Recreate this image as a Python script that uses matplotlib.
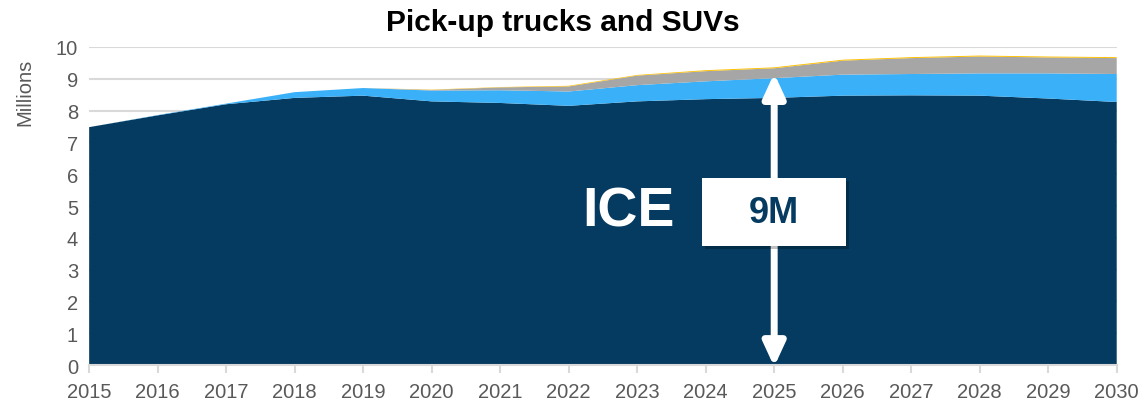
import matplotlib.pyplot as plt
from matplotlib.patches import FancyArrowPatch, Rectangle

plt.rcParams['font.family'] = ['Liberation Sans', 'DejaVu Sans']

years = list(range(2015, 2031))
ice = [7.48, 7.85, 8.20, 8.40, 8.47, 8.29, 8.24, 8.15, 8.29, 8.36, 8.40, 8.47, 8.48, 8.47, 8.38, 8.27]
hybrid = [0.00, 0.01, 0.02, 0.18, 0.24, 0.34, 0.40, 0.45, 0.51, 0.56, 0.62, 0.66, 0.67, 0.70, 0.79, 0.88]
electric = [0.00, 0.00, 0.00, 0.00, 0.00, 0.02, 0.09, 0.16, 0.30, 0.32, 0.31, 0.44, 0.50, 0.53, 0.50, 0.50]
other = [0.00, 0.00, 0.00, 0.00, 0.00, 0.01, 0.01, 0.02, 0.02, 0.03, 0.03, 0.03, 0.03, 0.03, 0.03, 0.03]
colors = ['#053B60', '#3AB0F8', '#A6A6A6', '#FFC000']

fig = plt.figure(figsize=(11.43, 4.10), dpi=100)
ax = fig.add_axes([0.078, 0.107, 0.899, 0.776])

ax.stackplot(years, ice, hybrid, electric, other, colors=colors, linewidth=0)

ax.set_xlim(2015, 2030)
ax.set_ylim(0, 10)
ax.set_xticks(years)
ax.set_yticks(range(0, 11))
ax.grid(axis='y', color='#D9D9D9', linewidth=1.5)
ax.set_axisbelow(True)
for side in ['left', 'right', 'top']:
    ax.spines[side].set_visible(False)
ax.spines['bottom'].set_color('#D9D9D9')
ax.spines['bottom'].set_linewidth(1.5)
ax.tick_params(axis='x', colors='#D9D9D9', labelcolor='#595959', labelsize=14.5,
               length=6, width=1.5, pad=6)
ax.tick_params(axis='y', length=0, labelcolor='#595959', labelsize=14.5, pad=8)
ax.set_ylabel('Millions', color='#595959', fontsize=14.5)
ax.yaxis.set_label_coords(-0.053, 0.86)

fig.text(0.492, 0.945, 'Pick-up trucks and SUVs', fontsize=21.5, fontweight='bold',
         ha='center', va='center')

# double arrow marking the total height
arrow = FancyArrowPatch((2025, -0.05), (2025, 9.17),
                        arrowstyle='<|-|>,head_length=6.5,head_width=3.0',
                        color='white', linewidth=5, mutation_scale=2.2,
                        shrinkA=0, shrinkB=0, zorder=5)
ax.add_patch(arrow)

ax.text(2022.87, 4.84, 'ICE', color='white', fontsize=40, fontweight='bold',
        ha='center', va='center', zorder=6)

shadow = Rectangle((2023.99, 3.64), 2.1, 2.14, facecolor='black', alpha=0.25,
                   linewidth=0, zorder=6)
ax.add_patch(shadow)
box = Rectangle((2023.95, 3.74), 2.1, 2.14, facecolor='white', linewidth=0, zorder=7)
ax.add_patch(box)
ax.text(2025, 4.81, '9M', color='#053B60', fontsize=26, fontweight='bold',
        ha='center', va='center', zorder=8)

fig.savefig('out.png', dpi=100)
